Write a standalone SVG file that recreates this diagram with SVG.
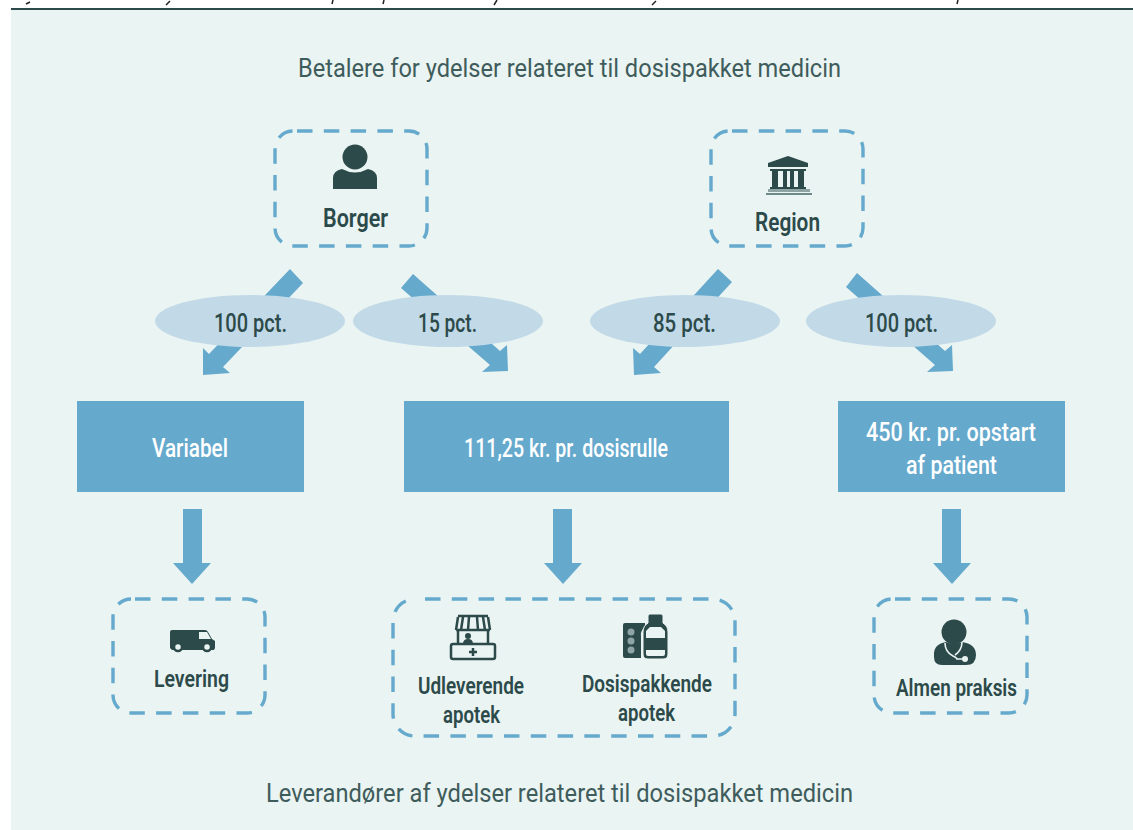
<svg xmlns="http://www.w3.org/2000/svg" width="1133" height="830" viewBox="0 0 1133 830">
<style>
.t{font-family:"Roboto","Liberation Sans",sans-serif;fill:#2c4a4a}
.h{font-size:26px;font-weight:400;fill:#3f5c5c}
.b{font-size:26px;font-weight:600}
.s{font-size:23px;font-weight:600}
.p{font-size:26px;font-weight:500}
.w{font-size:26px;font-weight:500;fill:#fff}
.d{fill:none;stroke:#65a9cd;stroke-width:3.4;stroke-dasharray:15.5 11.3}
.a{fill:#65a9cd}
.r{fill:#65a9cd}
.e{fill:#c2dae8}
.i{fill:#2c4a4a}
.l{fill:none;stroke:#2c4a4a}
</style>
<rect width="1133" height="830" fill="#fff"/>
<rect x="11" y="9" width="1122" height="821" fill="#eaf4f2"/>
<rect x="11" y="8" width="1122" height="2" fill="#2c4a4a"/>
<path d="M30 2l-4 2M170 1l-4 4M333 0l-1 4M384 0l-1 4M497 0l-3 5M656 1l-4 4M958 0l-1 4" stroke="#222" stroke-width="1.5" fill="none"/>
<text class="t h" x="298" y="77" textLength="543" lengthAdjust="spacingAndGlyphs">Betalere for ydelser relateret til dosispakket medicin</text>
<text class="t h" x="266" y="802" textLength="587" lengthAdjust="spacingAndGlyphs">Leverandører af ydelser relateret til dosispakket medicin</text>
<g id="connectors">
<path class="a" d="M290 269L303 283L223 367L230 373L203 375L203 348L209 354Z"/>
<path class="a" d="M413 274L401 288L490 365L482 372L508 371L507 345L500 351Z"/>
<path class="a" d="M718 269L732 282L654 367L661 373L634 375L633 348L640 354Z"/>
<path class="a" d="M857 273L846 287L935 365L927 372L953 371L952 345L945 351Z"/>
<path class="a" d="M183 509H202V563H211L192 584L173 563H183Z"/>
<path class="a" d="M553 509H572V563H582L563 584L544 563H553Z"/>
<path class="a" d="M942 509H961V563H971L952 584L933 563H942Z"/>
</g>
<g id="borger">
<rect class="d" x="275" y="131" width="152" height="115" rx="18" stroke-dashoffset="-4"/>
<circle class="i" cx="355" cy="157" r="12.5"/>
<path class="i" d="M333 189V178Q333 171 342 169Q355 176 368 169Q377 171 377 178V189Z"/>
<text class="t b" x="323" y="227" textLength="65" lengthAdjust="spacingAndGlyphs">Borger</text>
</g>
<g id="region">
<rect class="d" x="711" y="131" width="152" height="115" rx="18" stroke-dashoffset="-3"/>
<path class="i" d="M768 163L788 156L808 163V167H768Z"/>
<path class="i" d="M770 169H806V171H804V187H806V189H770V187H772V171H770ZM778 171V187H783V171ZM787 171V187H790V171ZM794 171V187H798V171Z" fill-rule="evenodd"/>
<rect x="768" y="189" width="42" height="3" fill="#8fa5a5"/>
<rect x="766" y="193" width="46" height="2" fill="#6f8a8a"/>
<text class="t b" x="755" y="231" textLength="65" lengthAdjust="spacingAndGlyphs">Region</text>
</g>
<g id="e1"><ellipse class="e" cx="250" cy="321" rx="95" ry="26"/><text class="t p" x="214" y="332" textLength="73" lengthAdjust="spacingAndGlyphs">100 pct.</text></g>
<g id="e2"><ellipse class="e" cx="448" cy="321" rx="95" ry="26"/><text class="t p" x="418" y="332" textLength="59" lengthAdjust="spacingAndGlyphs">15 pct.</text></g>
<g id="e3"><ellipse class="e" cx="685" cy="321" rx="95" ry="26"/><text class="t p" x="653" y="332" textLength="63" lengthAdjust="spacingAndGlyphs">85 pct.</text></g>
<g id="e4"><ellipse class="e" cx="901" cy="321" rx="95" ry="26"/><text class="t p" x="865" y="332" textLength="73" lengthAdjust="spacingAndGlyphs">100 pct.</text></g>
<g id="variabel"><rect class="r" x="77" y="401" width="227" height="91"/><text class="t w" x="152" y="457" textLength="76" lengthAdjust="spacingAndGlyphs">Variabel</text></g>
<g id="rulle"><rect class="r" x="404" y="401" width="325" height="91"/><text class="t w" x="464" y="457" textLength="204" lengthAdjust="spacingAndGlyphs">111,25 kr. pr. dosisrulle</text></g>
<g id="opstart"><rect class="r" x="838" y="401" width="227" height="91"/>
<text class="t w" x="866" y="441" textLength="170" lengthAdjust="spacingAndGlyphs">450 kr. pr. opstart</text>
<text class="t w" x="906" y="474" textLength="91" lengthAdjust="spacingAndGlyphs">af patient</text></g>
<g id="levering">
<rect class="d" x="113" y="599" width="152" height="114" rx="18" stroke-dashoffset="-4"/>
<path class="i" d="M170 648V632Q170 630 172 630H205Q207 630 208 632L212 639L215 641V648L214 650H172Z"/>
<path d="M199 632H207L211 639H199Z" fill="#eaf4f2"/>
<circle cx="178" cy="647" r="4" fill="#eaf4f2" stroke="#2c4a4a" stroke-width="2.5"/>
<circle cx="207" cy="647" r="4" fill="#eaf4f2" stroke="#2c4a4a" stroke-width="2.5"/>
<text class="t s" x="154" y="687" textLength="75" lengthAdjust="spacingAndGlyphs">Levering</text>
</g>
<g id="apotek">
<rect class="d" x="393" y="599" width="342" height="137" rx="22" stroke-dashoffset="-10"/>
<path class="l" stroke-width="2.5" d="M458 616H488M456 630H490M458 617L456 630M488 617L490 630M463 617L461 630M469 617L468 630M477 617L478 630M483 617L485 630M458 630V644M488 630V644"/>
<rect class="l" stroke-width="2.5" x="451" y="644" width="44" height="15" rx="2"/>
<path class="l" stroke-width="2.5" d="M473 648V656M469 652H477"/>
<circle class="i" cx="468" cy="636" r="3"/><path class="i" d="M463 644Q463 639 468 639Q473 639 473 644Z"/>
<text class="t s" x="418" y="694" textLength="106" lengthAdjust="spacingAndGlyphs">Udleverende</text>
<text class="t s" x="443" y="723" textLength="57" lengthAdjust="spacingAndGlyphs">apotek</text>
<path class="i" d="M625 623H645V626Q640 632 641 636V658H625Q623 658 623 656V625Q623 623 625 623Z"/>
<circle cx="631" cy="632" r="3.5" fill="#8fa5a5"/><circle cx="631" cy="641" r="3.5" fill="#8fa5a5"/><circle cx="631" cy="650" r="3.5" fill="#8fa5a5"/>
<path class="i" d="M643 632Q643 626 648 623V616Q648 614 650 614H661Q663 614 663 616V623Q668 626 668 632V654Q668 659 663 659H648Q643 659 643 654Z" stroke="#eaf4f2" stroke-width="1"/>
<path d="M646 638V631L650 627H661L665 631V638Z M646 650V654Q646 656 648 656H663Q665 656 665 654V650Z" fill="#eaf4f2"/>
<text class="t s" x="582" y="692" textLength="130" lengthAdjust="spacingAndGlyphs">Dosispakkende</text>
<text class="t s" x="618" y="721" textLength="57" lengthAdjust="spacingAndGlyphs">apotek</text>
</g>
<g id="almen">
<rect class="d" x="874" y="599" width="153" height="114" rx="18" stroke-dashoffset="-3"/>
<circle class="i" cx="954" cy="632" r="12.5"/>
<path class="i" d="M934 657V654Q934 644 946 642Q954 646 962 642Q976 644 976 655Q976 665 966 665H942Q934 665 934 657Z"/>
<path d="M945 643Q945 652 953 656Q957 658 957 659H964" fill="none" stroke="#eaf4f2" stroke-width="1.6"/>
<path d="M962 642Q962 650 955 655" fill="none" stroke="#eaf4f2" stroke-width="1.6"/>
<circle cx="965" cy="659" r="3" fill="#eaf4f2"/>
<text class="t s" x="896" y="696" textLength="121" lengthAdjust="spacingAndGlyphs">Almen praksis</text>
</g>
</svg>
